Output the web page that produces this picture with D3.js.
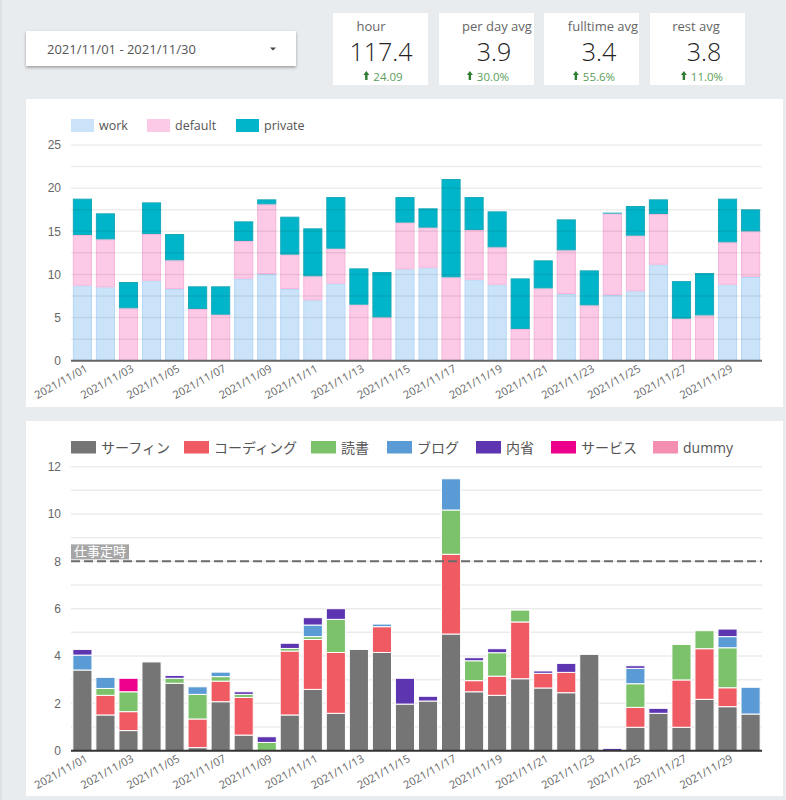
<!DOCTYPE html>
<html>
<head>
<meta charset="utf-8">
<style>
    body {
        margin: 0;
        background: #e9ecef;
        font-family: 'Open Sans', 'Noto Sans CJK JP', sans-serif;
    }
    svg { display: block; }
    .tick text { fill: #666; }
</style>
</head>
<body>
<svg id="chart" width="786" height="800"></svg>

<script src="https://cdn.jsdelivr.net/npm/d3@7"></script>
<script>
    // dates on the x axis
    const days = ["2021/11/01","2021/11/02","2021/11/03","2021/11/04","2021/11/05","2021/11/06","2021/11/07","2021/11/08","2021/11/09","2021/11/10",
        "2021/11/11","2021/11/12","2021/11/13","2021/11/14","2021/11/15","2021/11/16","2021/11/17","2021/11/18","2021/11/19","2021/11/20",
        "2021/11/21","2021/11/22","2021/11/23","2021/11/24","2021/11/25","2021/11/26","2021/11/27","2021/11/28","2021/11/29","2021/11/30"];
    const dayTicks = ["2021/11/01","2021/11/03","2021/11/05","2021/11/07","2021/11/09","2021/11/11","2021/11/13","2021/11/15",
        "2021/11/17","2021/11/19","2021/11/21","2021/11/23","2021/11/25","2021/11/27","2021/11/29"];

    // top chart: hours per calendar
    const work    = [8.7,8.5,0,9.27,8.31,0,0,9.5,10.05,8.31,7.0,8.93,0,0,10.59,10.78,0,9.39,8.81,0,0,7.73,0,7.61,8.04,11.13,0,0,8.81,9.7];
    const deflt   = [5.87,5.56,6.07,5.41,3.32,5.99,5.33,4.37,8.07,3.98,2.78,4.05,6.49,5.02,5.41,4.64,9.66,5.76,4.33,3.67,8.38,5.06,6.41,9.43,6.45,5.87,4.87,5.25,4.91,5.29];
    const priv    = [4.21,3.02,3.05,3.67,3.05,2.63,3.29,2.28,0.58,4.4,5.56,5.99,4.21,5.26,2.97,2.24,11.4,3.82,4.17,5.87,3.25,3.59,4.06,0.12,3.44,1.7,4.36,4.91,5.06,2.55];
    const topKeys = ["work", "default", "private"];
    const topTicks = [0, 5, 10, 15, 20, 25];

    // bottom chart: hours per activity
    const surfing = [3.41,1.51,0.85,3.75,2.85,0.13,2.07,0.66,0,1.51,2.59,1.58,4.28,4.15,1.97,2.1,4.93,2.49,2.34,3.04,2.65,2.45,4.07,0,0.99,1.58,0.99,2.17,1.86,1.55];
    const coding  = [0,0.83,0.8,0,0,1.21,0.87,1.59,0,2.7,2.11,2.57,0,1.09,0,0,3.37,0.47,0.81,2.4,0.62,0.86,0,0,0.84,0,2.0,2.14,0.8,0];
    const reading = [0,0.29,0.84,0,0.21,1.04,0.19,0.13,0.35,0.11,0.12,1.4,0,0,0,0,1.87,0.84,0.99,0.5,0,0,0,0,1.0,0,1.5,0.76,1.69,0];
    const blog    = [0.63,0.47,0,0,0,0.32,0.19,0,0,0,0.49,0,0,0.11,0,0,1.32,0,0,0,0,0,0,0,0.65,0,0,0,0.47,1.13];
    const reflect = [0.24,0,0,0,0.12,0,0,0.11,0.24,0.22,0.31,0.45,0,0,1.09,0.2,0,0.13,0.17,0,0.1,0.38,0,0.1,0.11,0.21,0,0,0.32,0];
    const service = [0,0,0.57,0,0,0,0,0,0,0,0,0,0,0,0,0,0,0,0,0,0,0,0,0,0,0,0,0,0,0];
    const dummy   = [0,0,0,0,0,0,0,0,0,0,0,0,0,0,0,0,0,0,0,0,0,0,0,0,0,0,0,0,0,0];
    const botKeys = ["サーフィン", "コーディング", "読書", "ブログ", "内省", "サービス", "dummy"];
    const botTicks = [0, 2, 4, 6, 8, 10, 12];
    const workLine = 8;

    // scorecards
    const cardLabels = ["hour", "per day avg", "fulltime avg", "rest avg"];
    const cardValues = ["117.4", "3.9", "3.4", "3.8"];
    const cardDeltas = ["24.09", "30.0%", "55.6%", "11.0%"];
    const dateRange = "2021/11/01 - 2021/11/30";

    const topColor = d3.scaleOrdinal().domain(topKeys).range(["#cbe3f9", "#fcc9e6", "#00b5c9"]);
    const topStroke = d3.scaleOrdinal().domain(topKeys).range(["#b7d7f6", "#f6b5da", "#19a9bb"]);
    const botColor = d3.scaleOrdinal().domain(botKeys)
        .range(["#757575", "#f05b63", "#7cc26a", "#5b9bd5", "#5e35b1", "#ec008c", "#f48fb1"]);

    const svg = d3.select("#chart");

    // left edge line
    svg.append("rect").attr("x", 0).attr("y", 0).attr("width", 2).attr("height", 800).attr("fill", "#dde1e5");

    // ---- header ----
    const defs = svg.append("defs");
    const f = defs.append("filter").attr("id", "shadow").attr("x", "-10%").attr("y", "-30%").attr("width", "120%").attr("height", "180%");
    f.append("feDropShadow").attr("dx", 0).attr("dy", 1.5).attr("stdDeviation", 1.5).attr("flood-color", "#000").attr("flood-opacity", 0.35);

    svg.append("rect").attr("x", 26).attr("y", 31).attr("width", 270).attr("height", 35)
        .attr("fill", "#fff").attr("filter", "url(#shadow)");
    svg.append("text").attr("x", 47).attr("y", 53.5).attr("font-size", 13).attr("fill", "#555").text(dateRange);
    svg.append("path").attr("d", "M270,47.5 L276,47.5 L273,50.5 Z").attr("fill", "#444");

    const cardX = [333, 439, 544, 650];
    const labelCx = [371, 497, 603, 696];
    const valueCx = [381, 494, 599, 704];
    const deltaCx = [383, 488, 594, 702];
    cardX.forEach((cx, i) => {
        const g = svg.append("g");
        g.append("rect").attr("x", cx).attr("y", 13).attr("width", 95).attr("height", 72).attr("fill", "#fff");
        g.append("text").attr("x", labelCx[i]).attr("y", 30.5).attr("text-anchor", "middle")
            .attr("font-size", 13).attr("fill", "#666").text(cardLabels[i]);
        g.append("text").attr("x", valueCx[i]).attr("y", 61).attr("text-anchor", "middle")
            .attr("font-size", 25).attr("font-weight", 300).attr("fill", "#222").text(cardValues[i]);
        const dt = g.append("text").attr("x", deltaCx[i] + 5).attr("y", 80.5).attr("text-anchor", "middle")
            .attr("font-size", 11.5).attr("fill", "#5a9e5a").text(cardDeltas[i]);
        const w = dt.node().getComputedTextLength();
        const ax = deltaCx[i] + 5 - w / 2 - 7;
        g.append("path").attr("d", `M${ax - 3},75 L${ax},71 L${ax + 3},75 L${ax + 1.2},75 L${ax + 1.2},80 L${ax - 1.2},80 L${ax - 1.2},75 Z`)
            .attr("fill", "#2e7d32");
    });

    // ---- panels ----
    svg.append("rect").attr("x", 26).attr("y", 99).attr("width", 757).attr("height", 308).attr("fill", "#fff");
    svg.append("rect").attr("x", 26).attr("y", 421).attr("width", 757).attr("height", 375).attr("fill", "#fff");

    const x = d3.scaleBand().domain(days).range([71, 762]).paddingInner(0.17).paddingOuter(0.08);

    function xAxis(g, y0) {
        g.attr("transform", `translate(0,${y0})`)
            .call(d3.axisBottom(x).tickValues(dayTicks).tickSize(0).tickPadding(0))
            .call(a => a.select(".domain").remove())
            .selectAll("text")
            .attr("font-size", 11)
            .attr("font-family", "'Open Sans', sans-serif")
            .attr("text-anchor", "end")
            .attr("dy", 0)
            .attr("transform", "translate(6,8) rotate(-29)");
    }

    // ---- top chart ----
    const yTop = d3.scaleLinear().domain([0, 25]).range([360.7, 145]);
    const topRows = days.map((d, i) => ({ day: d, work: work[i], default: deflt[i], private: priv[i] }));
    const topSeries = d3.stack().keys(topKeys)(topRows);

    svg.append("g").selectAll("g").data(topSeries).join("g")
        .attr("fill", s => topColor(s.key)).attr("stroke", s => topStroke(s.key)).attr("stroke-width", 1)
        .selectAll("rect").data(s => s.filter(d => d[1] - d[0] > 0)).join("rect")
        .attr("x", d => x(d.data.day) + 0.5)
        .attr("width", x.bandwidth() - 1)
        .attr("y", d => yTop(d[1]) + 0.5)
        .attr("height", d => Math.max(0, yTop(d[0]) - yTop(d[1]) - 1));

    svg.append("g").selectAll("line").data(d3.range(1, 11).map(k => k * 2.5)).join("line")
        .attr("x1", 71).attr("x2", 762)
        .attr("y1", d => yTop(d)).attr("y2", d => yTop(d))
        .attr("stroke", "rgba(0,0,0,0.07)").attr("stroke-width", 1.5);

    svg.append("g").attr("transform", "translate(71,0)")
        .call(d3.axisLeft(yTop).tickValues(topTicks).tickSize(0).tickPadding(10))
        .call(a => a.select(".domain").remove())
        .selectAll("text").attr("font-size", 12);

    svg.append("line").attr("x1", 71).attr("x2", 762).attr("y1", yTop(0)).attr("y2", yTop(0))
        .attr("stroke", "#666").attr("stroke-width", 2);

    svg.append("g").call(g => xAxis(g, 363));

    const topLegX = [71, 147, 236];
    const tl = svg.append("g").selectAll("g").data(topKeys).join("g")
        .attr("transform", (d, i) => `translate(${topLegX[i]},119)`);
    tl.append("rect").attr("width", 23).attr("height", 13).attr("fill", d => topColor(d));
    tl.append("text").attr("x", 28).attr("y", 11).attr("font-size", 12.5).attr("fill", "#555").text(d => d);

    // ---- bottom chart ----
    const yBot = d3.scaleLinear().domain([0, 12]).range([750.7, 466.7]);

    svg.append("g").selectAll("line").data(d3.range(1, 13)).join("line")
        .attr("x1", 71).attr("x2", 762)
        .attr("y1", d => yBot(d)).attr("y2", d => yBot(d))
        .attr("stroke", "#ebebeb").attr("stroke-width", 1.5);

    const botRows = days.map((d, i) => ({
        day: d, "サーフィン": surfing[i], "コーディング": coding[i], "読書": reading[i],
        "ブログ": blog[i], "内省": reflect[i], "サービス": service[i], "dummy": dummy[i]
    }));
    const botSeries = d3.stack().keys(botKeys)(botRows);

    svg.append("g").selectAll("g").data(botSeries).join("g")
        .attr("fill", s => botColor(s.key)).attr("stroke", "#fff").attr("stroke-width", 1)
        .selectAll("rect").data(s => s.filter(d => d[1] - d[0] > 0)).join("rect")
        .attr("x", d => x(d.data.day))
        .attr("width", x.bandwidth())
        .attr("y", d => yBot(d[1]))
        .attr("height", d => Math.max(0.8, yBot(d[0]) - yBot(d[1])));

    svg.append("g").attr("transform", "translate(71,0)")
        .call(d3.axisLeft(yBot).tickValues(botTicks).tickSize(0).tickPadding(10))
        .call(a => a.select(".domain").remove())
        .selectAll("text").attr("font-size", 12);

    svg.append("line").attr("x1", 71).attr("x2", 762).attr("y1", yBot(0)).attr("y2", yBot(0))
        .attr("stroke", "#333").attr("stroke-width", 2);

    // reference line
    svg.append("line").attr("x1", 71).attr("x2", 762).attr("y1", yBot(workLine)).attr("y2", yBot(workLine))
        .attr("stroke", "#6b6b6b").attr("stroke-width", 2).attr("stroke-dasharray", "9,4");
    svg.append("rect").attr("x", 71).attr("y", yBot(workLine) - 17).attr("width", 58).attr("height", 15).attr("fill", "#a6a6a6");
    svg.append("text").attr("x", 100).attr("y", yBot(workLine) - 5.5).attr("text-anchor", "middle")
        .attr("font-size", 13).attr("font-family", "'Noto Sans CJK JP', sans-serif").attr("fill", "#fff").text("仕事定時");

    svg.append("g").call(g => xAxis(g, 753));

    const botLegX = [71, 184, 311, 387, 476, 551, 653];
    const bl = svg.append("g").selectAll("g").data(botKeys).join("g")
        .attr("transform", (d, i) => `translate(${botLegX[i]},441)`);
    bl.append("rect").attr("width", 25).attr("height", 12.5).attr("fill", d => botColor(d));
    bl.append("text").attr("x", 30).attr("y", 11.5).attr("font-size", 14).attr("fill", "#555")
        .attr("font-family", "'Open Sans', 'Noto Sans CJK JP', sans-serif").text(d => d);
</script>
</body>
</html>
